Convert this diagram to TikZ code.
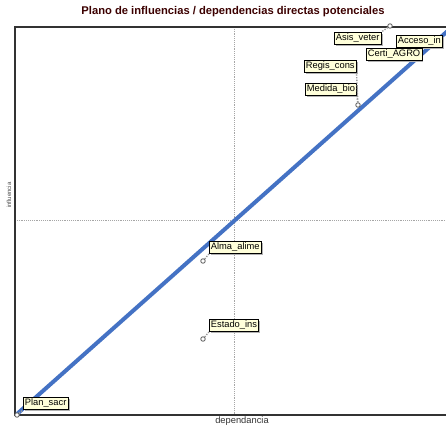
\documentclass[tikz,border=0pt]{standalone}
\usepackage{fontspec}
\setmainfont{Liberation Sans}
\usetikzlibrary{shadows}

\definecolor{planblue}{RGB}{68,114,196}
\definecolor{labelfill}{RGB}{255,255,218}
\definecolor{titlered}{RGB}{60,0,0}

\tikzset{
  varlabel/.style={draw=black, fill=labelfill, inner sep=1.2pt, anchor=north west,
    text height=5.2pt, text depth=1.7pt, font=\fontsize{7}{8}\selectfont,
    drop shadow={shadow xshift=1.2pt, shadow yshift=-1.2pt, fill=gray!60, opacity=1}},
  varpoint/.style={circle, draw=black!65, fill=white, line width=0.6pt, inner sep=0pt, minimum size=3.4pt},
  leader/.style={densely dotted, line width=1pt, black!40},
  axisline/.style={densely dotted, gray!70},
}

\begin{document}
\begin{tikzpicture}[x=0.75pt, y=-0.75pt]
  \useasboundingbox[fill=white] (0,0) rectangle (446,425);

  \node[font=\bfseries\fontsize{8.4}{9}\selectfont, text=titlered] (title) at (233,12)
    {Plano de influencias / dependencias directas potenciales};

  % frame and middle axes
  \draw[axisline] (234,27) -- (234,415);
  \draw[axisline] (15,220) -- (446,220);
  \draw[gray!40!black, line width=0.8pt] (446,27) -- (15,27) -- (15,415) -- (446,415);

  \node[font=\fontsize{7}{8}\selectfont, text=black!80] (xlab) at (242,421) {dependancia};
  \node[font=\fontsize{4.5}{5}\selectfont, text=black!70, rotate=90] (ylab) at (9,195) {influencia};

  % diagonal
  \coordinate (lo) at (17,414);
  \coordinate (hi) at (460,20);
  \draw[planblue, line width=3pt] (lo) -- (hi);

  % leaders, points
  \node[varpoint] (pasis) at (390,26) {};
  \node[varpoint] (pmedida) at (358,105) {};
  \node[varpoint] (palma) at (203,261) {};
  \node[varpoint] (pestado) at (203,339) {};
  \node[varpoint] (pplan) at (17,415) {};

  % labels
  \node[varlabel] (lasis) at (334,32) {Asis\_veter};
  \node[varlabel] (lacceso) at (396,35) {Acceso\_in};
  \node[varlabel] (lcerti) at (366,48) {Certi\_AGRO};
  \node[varlabel] (lregis) at (304,60) {Regis\_cons};
  \node[varlabel] (lmedida) at (305,83) {Medida\_bio};
  \node[varlabel] (lalma) at (209,241) {Alma\_alime};
  \node[varlabel] (lestado) at (209,319) {Estado\_ins};
  \node[varlabel] (lplan) at (23,397) {Plan\_sacr};

  \draw[leader] (pasis) -- (lasis.north east);
  \draw[leader] (pmedida) -- (lregis.south east);
  \draw[leader] (pmedida) -- (lmedida.south east);
  \draw[leader] (palma) -- (lalma.south west);
  \draw[leader] (pestado) -- (lestado.south west);
  \draw[leader] (pplan) -- (lplan.south west);
\end{tikzpicture}
\end{document}
